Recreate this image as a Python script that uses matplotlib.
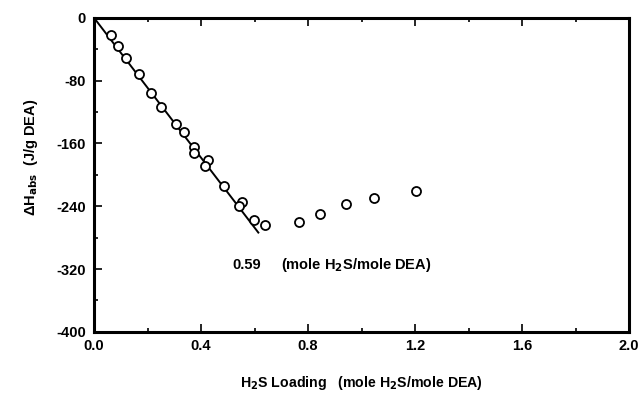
import matplotlib
matplotlib.use('Agg')
import matplotlib.pyplot as plt
from matplotlib.ticker import MultipleLocator

plt.rcParams['font.family'] = ['Liberation Sans', 'DejaVu Sans']
plt.rcParams['font.weight'] = 'bold'
plt.rcParams['mathtext.default'] = 'bf'

# measured heats of absorption
loading = [0.062, 0.089, 0.120, 0.168, 0.212, 0.250, 0.307, 0.336, 0.372, 0.375,
           0.424, 0.416, 0.486, 0.553, 0.543, 0.597, 0.639,
           0.765, 0.846, 0.942, 1.048, 1.204]
dh_abs = [-21.7, -35.3, -51.3, -71.3, -95.9, -113, -135, -145, -165, -172,
          -181, -188.5, -213.6, -234, -239.5, -258, -264,
          -260, -250, -237, -229.6, -220]

# linear fit through origin
fit_x = [0.0, 0.614]
fit_y = [0.0, -273.5]

fig = plt.figure(figsize=(6.4, 3.97), dpi=100)
ax = fig.add_axes([0.147, 0.164, 0.836, 0.791])

ax.plot(fit_x, fit_y, color='black', lw=1.4, zorder=2)
ax.plot(loading, dh_abs, 'o', mfc='white', mec='black', mew=1.3, ms=6.5, zorder=3)

ax.set_xlim(0, 2.0)
ax.set_ylim(-400, 0)
ax.xaxis.set_major_locator(MultipleLocator(0.4))
ax.xaxis.set_minor_locator(MultipleLocator(0.2))
ax.yaxis.set_major_locator(MultipleLocator(80))
ax.yaxis.set_minor_locator(MultipleLocator(40))
ax.xaxis.set_major_formatter(matplotlib.ticker.FormatStrFormatter('%.1f'))
ax.yaxis.set_major_formatter(matplotlib.ticker.FormatStrFormatter('%d'))

ax.tick_params(which='both', direction='in', top=True, right=False, width=1.2)
ax.tick_params(which='major', length=6, labelsize=10.5)
ax.tick_params(which='minor', length=3)
ax.tick_params(axis='x', pad=5)
ax.tick_params(axis='y', pad=6)
for sp in ax.spines.values():
    sp.set_linewidth(2.2)

ax.set_xlabel('H$_2$S Loading   (mole H$_2$S/mole DEA)', fontsize=10.2, fontweight='bold', labelpad=15)
ax.set_ylabel('ΔH$_{abs}$  (J/g DEA)', fontsize=10.5, fontweight='bold')
ax.yaxis.set_label_coords(-0.101, 0.557)

ax.text(0.516, -315, '0.59', fontsize=10.5, fontweight='bold', va='center')
ax.text(0.70, -315, '(mole H$_2$S/mole DEA)', fontsize=10.5, fontweight='bold', va='center')

fig.savefig('out.png', dpi=100)
